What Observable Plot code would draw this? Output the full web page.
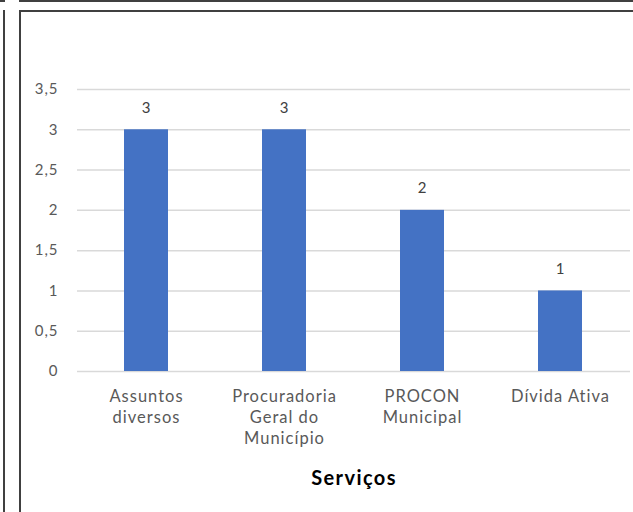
<!DOCTYPE html>
<html>
<head>
<meta charset="utf-8">
<script src="https://cdn.jsdelivr.net/npm/d3@7"></script>
<script src="https://cdn.jsdelivr.net/npm/@observablehq/plot@0.6"></script>
<style>
  html, body { margin: 0; padding: 0; background: #fff; }
  #wrap { position: relative; width: 633px; height: 512px; overflow: hidden; }
  .ln { position: absolute; background: #404040; }
  #chart { position: absolute; left: 0; top: 0; }
</style>
</head>
<body>
<div id="wrap">
  <div class="ln" style="left:0;top:0;width:5px;height:2px"></div>
  <div class="ln" style="left:3px;top:10px;width:2px;height:520px"></div>
  <div class="ln" style="left:19px;top:0;width:620px;height:2px"></div>
  <div class="ln" style="left:19px;top:10px;width:620px;height:2px"></div>
  <div class="ln" style="left:19px;top:10px;width:2px;height:520px"></div>
  <div id="chart"></div>
</div>
<script>
const categories = ["Assuntos diversos", "Procuradoria Geral do Município", "PROCON Municipal", "Dívida Ativa"];
const tickLabels = ["Assuntos\ndiversos", "Procuradoria\nGeral do\nMunicípio", "PROCON\nMunicipal", "Dívida Ativa"];
const values = [3, 3, 2, 1];
const yTicks = [0, 0.5, 1, 1.5, 2, 2.5, 3, 3.5];
const xTitle = "Serviços";

const data = categories.map((c, i) => ({category: c, value: values[i]}));
const labelOf = new Map(categories.map((c, i) => [c, tickLabels[i]]));
const fmt = d => String(d).replace(".", ",");

const chart = Plot.plot({
  width: 633,
  height: 512,
  marginLeft: 77,
  marginRight: 3,
  marginTop: 89,
  marginBottom: 141,
  style: {fontFamily: "Lato, 'Open Sans', sans-serif", background: "transparent", color: "#595959"},
  x: {domain: categories, paddingInner: 0.68, paddingOuter: 0.34},
  y: {domain: [0, 3.5]},
  marks: [
    Plot.gridY(yTicks, {stroke: "#d9d9d9", strokeOpacity: 1, strokeWidth: 1.5}),
    Plot.barY(data, {x: "category", y: "value", fill: "#4472c4"}),
    Plot.text(data, {x: "category", y: "value", text: d => fmt(d.value), dy: -22, fontSize: 15, fill: "#404040", lineAnchor: "middle"}),
    Plot.axisY({ticks: yTicks, tickSize: 0, tickPadding: 19, tickFormat: fmt, fontSize: 15, fill: "#595959", label: null}),
    Plot.axisX({tickSize: 0, tickPadding: 16, tickFormat: d => labelOf.get(d), fontSize: 16.5, lineHeight: 1.27, fill: "#595959", label: null}),
    Plot.text([xTitle], {frameAnchor: "bottom", dx: 0, dy: 107, text: d => d, fontSize: 20, fontWeight: "bold", fill: "#000", lineAnchor: "middle"})
  ]
});
document.getElementById("chart").appendChild(chart);
d3.select(chart).selectAll("text").style("letter-spacing", "1px");
d3.select(chart).selectAll("text").filter(function() { return this.textContent === xTitle; }).style("letter-spacing", "1.4px");
</script>
</body>
</html>
